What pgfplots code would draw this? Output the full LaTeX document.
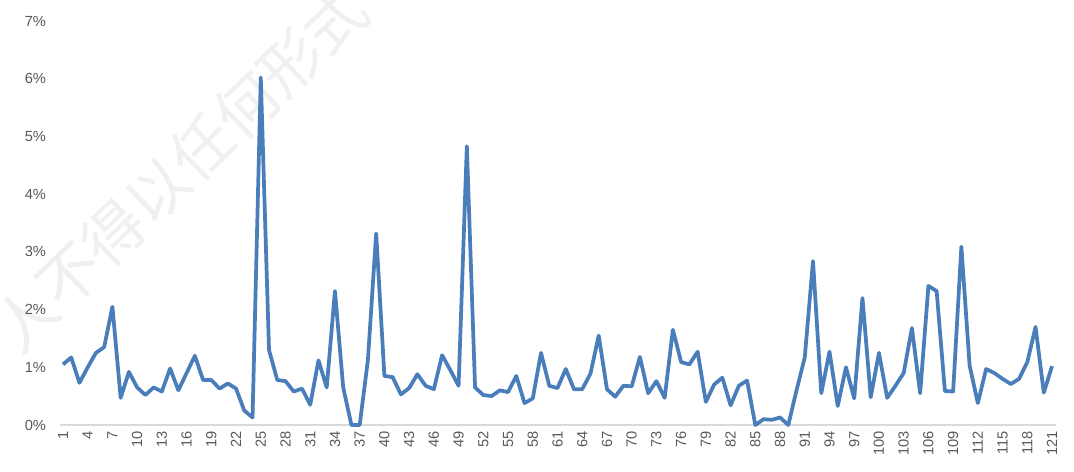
\documentclass[border=0pt]{standalone}
\usepackage{fontspec}
\setmainfont{Liberation Sans}
\newfontfamily\cjk{Noto Sans CJK SC}
\usepackage{pgfplots}
\pgfplotsset{compat=1.18}
\definecolor{lineblue}{HTML}{4A7EBB}
\definecolor{ticktext}{HTML}{595959}
\definecolor{axisgray}{HTML}{D9D9D9}
\begin{document}
\begin{tikzpicture}
\useasboundingbox (0,0) rectangle (805.5pt,353.25pt);
\node[rotate=44,text=black!6,font=\cjk\fontsize{46}{46}\selectfont,anchor=west] at (0pt,96pt) {人不得以任何形式};
\begin{axis}[
  at={(45pt,34.5pt)}, anchor=south west,
  scale only axis, width=746.8pt, height=303pt,
  xmin=0.64, xmax=121.45, ymin=0, ymax=7,
  axis x line*=bottom,
  axis y line*=left,
  x axis line style={draw=axisgray,line width=0.9pt,-},
  y axis line style={draw=none,-},
  ytick={0,1,2,3,4,5,6,7},
  xtick={1,4,...,121},
  xtick style={draw=none}, ytick style={draw=none},
  tick label style={text=ticktext,font=\fontsize{11}{13}\selectfont},
  /pgf/number format/assume math mode=true,
  x tick label style={rotate=90,anchor=east,xshift=-1pt},
  yticklabel style={xshift=-7pt},
  yticklabel={\pgfmathprintnumber{\tick}\%},
  clip=false,
]
\addplot[lineblue, line width=2.8pt, line join=round] coordinates {
(1,1.05) (2,1.17) (3,0.73) (4,1.00) (5,1.25) (6,1.35) (7,2.05) (8,0.47) (9,0.92) (10,0.65)
(11,0.52) (12,0.65) (13,0.58) (14,0.98) (15,0.60) (16,0.90) (17,1.20) (18,0.78) (19,0.78) (20,0.63)
(21,0.72) (22,0.63) (23,0.25) (24,0.13) (25,6.02) (26,1.30) (27,0.78) (28,0.76) (29,0.58) (30,0.63)
(31,0.35) (32,1.12) (33,0.65) (34,2.32) (35,0.65) (36,0.00) (37,0.00) (38,1.13) (39,3.32) (40,0.85)
(41,0.83) (42,0.53) (43,0.64) (44,0.88) (45,0.68) (46,0.62) (47,1.21) (48,0.95) (49,0.68) (50,4.83)
(51,0.65) (52,0.52) (53,0.50) (54,0.60) (55,0.57) (56,0.85) (57,0.38) (58,0.46) (59,1.25) (60,0.68)
(61,0.64) (62,0.97) (63,0.62) (64,0.62) (65,0.89) (66,1.55) (67,0.62) (68,0.49) (69,0.68) (70,0.67)
(71,1.18) (72,0.55) (73,0.76) (74,0.47) (75,1.65) (76,1.09) (77,1.05) (78,1.27) (79,0.40) (80,0.70)
(81,0.82) (82,0.34) (83,0.68) (84,0.77) (85,0.00) (86,0.10) (87,0.09) (88,0.13) (89,0.00) (90,0.60)
(91,1.17) (92,2.84) (93,0.55) (94,1.27) (95,0.33) (96,1.00) (97,0.46) (98,2.20) (99,0.48) (100,1.25)
(101,0.47) (102,0.68) (103,0.90) (104,1.68) (105,0.55) (106,2.41) (107,2.32) (108,0.59) (109,0.58) (110,3.09)
(111,1.03) (112,0.38) (113,0.97) (114,0.90) (115,0.80) (116,0.71) (117,0.80) (118,1.09) (119,1.70) (120,0.56)
(121,1.02)
};
\end{axis}
\end{tikzpicture}
\end{document}
